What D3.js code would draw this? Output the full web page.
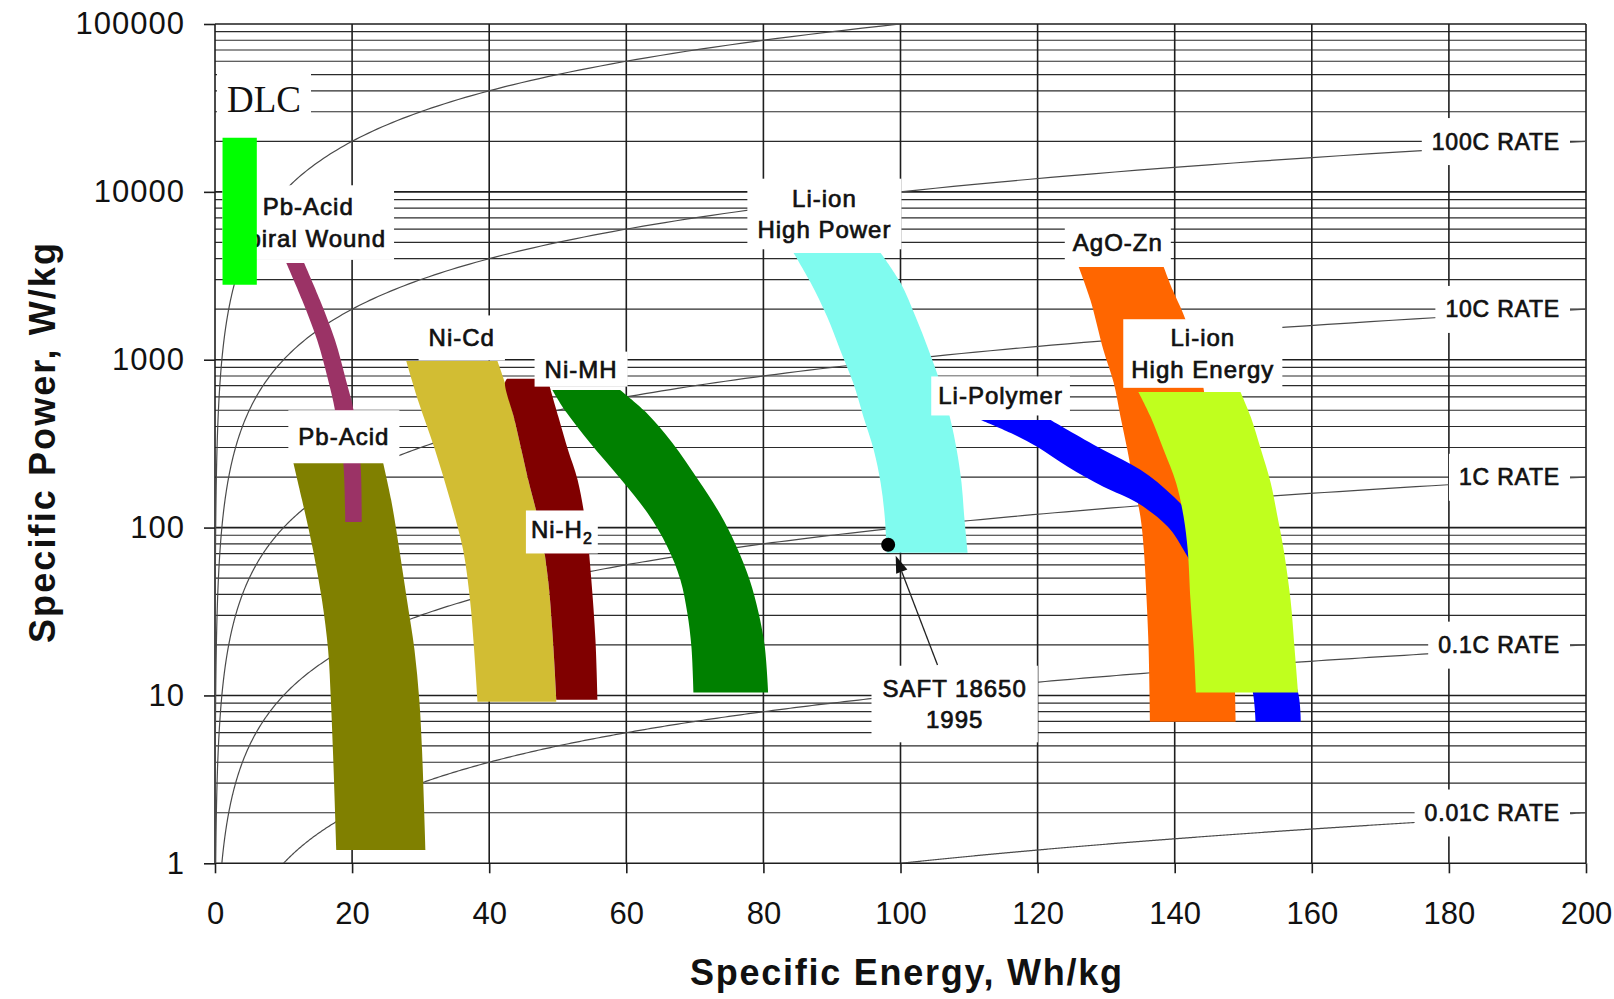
<!DOCTYPE html>
<html>
<head>
<meta charset="utf-8">
<script src="https://cdn.jsdelivr.net/npm/d3@7"></script>
<style>
  html, body { margin: 0; padding: 0; background: #fff; }
  svg { display: block; overflow: hidden; }
</style>
</head>
<body>
<svg id="chart" width="1614" height="999"></svg>
<script>
// ---------------- data ----------------
const energyTicks = [0, 20, 40, 60, 80, 100, 120, 140, 160, 180, 200];
const powerTicks = [1, 10, 100, 1000, 10000, 100000];
const powerTickLabels = ["1", "10", "100", "1000", "10000", "100000"];

// discharge-rate guide lines (P = rate * E)
const cRates = [0.01, 0.1, 1, 10, 100, 1000];
const cRateLabels = ["0.01C RATE", "0.1C RATE", "1C RATE", "10C RATE", "100C RATE", ""];

// region outlines as [specific energy Wh/kg, specific power W/kg], each edge listed top to bottom
const dlcLeft  = [[1.1, 21000], [1.1, 2800]];
const dlcRight = [[6.1, 21000], [6.1, 2800]];

const pbSpiralLeft  = [[10.4, 3770], [12.7, 2270], [14.9, 1310], [16.5, 758], [17.5, 502], [18.1, 333], [18.7, 246], [19.0, 108]];
const pbSpiralRight = [[13.0, 3770], [15.3, 2270], [17.5, 1310], [19.1, 758], [20.2, 502], [20.6, 333], [21.2, 246], [21.4, 108]];

const pbAcidLeft  = [[11.4, 246], [12.7, 146], [14.3, 73.6], [15.6, 37.1], [16.5, 18.7], [16.9, 9.42], [17.2, 4.74], [17.7, 1.2]];
const pbAcidRight = [[24.5, 246], [25.7, 146], [26.9, 73.6], [28.0, 37.1], [29.1, 18.7], [29.8, 9.42], [30.2, 4.74], [30.7, 1.2]];

const niCdLeft  = [[27.9, 983], [29.6, 576], [32.1, 290], [34.3, 146], [36.2, 73.6], [37.2, 37.1], [37.8, 18.7], [38.3, 9.16]];
const niCdRight = [[41.2, 983], [42.3, 728], [43.7, 438], [44.7, 290], [45.7, 192], [47.5, 96.9], [48.6, 48.8], [49.3, 21.4], [49.8, 9.16]];

const niH2Left  = [[42.6, 770], [42.3, 728], [43.7, 438], [44.7, 290], [45.7, 192], [47.5, 96.9], [48.6, 48.8], [49.3, 21.4], [49.8, 9.42]];
const niH2Right = [[48.5, 770], [50.1, 456], [51.5, 290], [52.9, 192], [54.2, 96.9], [54.9, 48.8], [55.5, 21.4], [55.8, 9.42]];

const niMHLeft  = [[49.2, 661], [51.2, 489], [54.7, 320], [59.3, 192], [63.1, 122], [66.0, 76.7], [67.9, 48.8], [68.9, 31.0], [69.5, 19.5], [69.8, 10.4]];
const niMHRight = [[59.1, 661], [62.8, 489], [66.7, 320], [70.5, 192], [73.6, 122], [76.1, 76.7], [78.0, 48.8], [79.3, 31.0], [80.2, 19.5], [80.7, 10.4]];

const liIonPowerLeft  = [[84.4, 4330], [86.9, 2870], [89.3, 1800], [91.2, 1144], [93.1, 728], [94.6, 456], [96.1, 290], [97.1, 185], [97.7, 116], [98.0, 70.7]];
const liIonPowerRight = [[97.1, 4330], [100.0, 2870], [102.2, 1800], [104.1, 1144], [105.8, 728], [107.3, 438], [108.2, 290], [108.9, 185], [109.3, 116], [109.8, 70.7]];

const agoZnLeft  = [[126.0, 3570], [127.7, 2271], [129.6, 1144], [131.1, 728], [132.1, 456], [133.1, 290], [134.0, 185], [135.0, 116], [135.5, 73.6], [135.9, 37.1], [136.2, 18.7], [136.4, 6.96]];
const agoZnRight = [[138.4, 3570], [139.7, 2604], [141.2, 1900], [143.1, 1144], [144.5, 576], [145.7, 290], [146.7, 146], [147.6, 73.6], [148.2, 37.1], [148.6, 18.7], [148.8, 10.4], [148.9, 6.96]];

const liPolymerLeft  = [[111.7, 438], [116.1, 366], [120.0, 302], [124.4, 230], [129.6, 175], [134.6, 140], [139.0, 101], [141.3, 73.6], [145.3, 37.1], [149.6, 18.7], [151.4, 10.4], [151.8, 6.96]];
const liPolymerRight = [[121.9, 438], [124.4, 382], [129.6, 290], [135.0, 221], [139.9, 152], [145.3, 84.5], [151.1, 37.1], [155.5, 18.7], [158.0, 10.4], [158.4, 6.96]];

const liIonEnergyLeft  = [[134.7, 643], [136.5, 456], [138.4, 290], [140.2, 185], [141.3, 116], [141.9, 73.6], [142.3, 37.1], [142.8, 18.7], [143.1, 10.4]];
const liIonEnergyRight = [[149.6, 643], [151.1, 456], [152.6, 290], [154.0, 185], [155.0, 116], [155.9, 73.6], [156.9, 37.1], [157.5, 18.7], [158.0, 10.4]];

// SAFT 18650 cell (1995) and its pointer
const saftPoint = [98.2, 79];
const saftArrow = [[105.4, 15.2], [99.3, 67.9]];

// region labels: text lines and the data point they are centred on
const techLabels = [
  { key: "dlc",     lines: ["DLC"],                    at: [7.15, 35300] },
  { key: "spiral",  lines: ["Pb-Acid", "Spiral Wound"], at: [13.6, 6570] },
  { key: "nicd",    lines: ["Ni-Cd"],                  at: [36.0, 1350] },
  { key: "nimh",    lines: ["Ni-MH"],                  at: [53.4, 880] },
  { key: "pbacid",  lines: ["Pb-Acid"],                at: [18.8, 348] },
  { key: "nih2",    lines: ["Ni-H"], sub: "2",         at: [50.6, 96.9] },
  { key: "lihp",    lines: ["Li-ion", "High Power"],   at: [88.9, 7390] },
  { key: "agozn",   lines: ["AgO-Zn"],                 at: [131.7, 4980] },
  { key: "lihe",    lines: ["Li-ion", "High Energy"],  at: [144.1, 1090] },
  { key: "lipoly",  lines: ["Li-Polymer"],             at: [114.6, 609] },
  { key: "saft",    lines: ["SAFT 18650", "1995"],     at: [107.9, 8.9] }
];

// ---------------- layout & style ----------------
const W = 1614, H = 999;
const plot = { left: 215, right: 1586, top: 24, bottom: 863.3 };

const colors = {
  spiral: "#9b3366", pbacid: "#808000", nicd: "#d2bd33", nih2: "#800000",
  nimh: "#008000", lihp: "#80fbef", agozn: "#ff6600", lipoly: "#0000ff",
  lihe: "#c0ff1e", dlc: "#00ff00"
};
// box padding [x, y] around each label
const labelPad = {
  dlc: [10, 6], spiral: [8, 8], nicd: [10, 9], nimh: [10, 4], pbacid: [10, 13],
  nih2: [5, 6], lihp: [10, 6], agozn: [8, 6], lihe: [8, 5], lipoly: [7, 6], saft: [11, 9]
};

const svg = d3.select("#chart");
svg.append("rect").attr("width", W).attr("height", H).attr("fill", "#fff");

const x = d3.scaleLinear().domain([0, 200]).range([plot.left, plot.right]);
const y = d3.scaleLog().domain([1, 100000]).range([plot.bottom, plot.top]);

svg.append("defs").append("clipPath").attr("id", "plotClip")
  .append("rect")
  .attr("x", plot.left).attr("y", plot.top)
  .attr("width", plot.right - plot.left).attr("height", plot.bottom - plot.top);

// ---------------- grid ----------------
const grid = svg.append("g");
const minorPower = [];
for (let k = 0; k < 5; k++) for (let m = 2; m <= 9; m++) minorPower.push(m * Math.pow(10, k));

grid.selectAll("line.minor").data(minorPower).join("line")
  .attr("x1", plot.left).attr("x2", plot.right)
  .attr("y1", d => y(d)).attr("y2", d => y(d))
  .attr("stroke", "#2b2b2b").attr("stroke-width", 1.2);

grid.selectAll("line.major").data(powerTicks).join("line")
  .attr("x1", plot.left).attr("x2", plot.right)
  .attr("y1", d => y(d)).attr("y2", d => y(d))
  .attr("stroke", "#1e1e1e").attr("stroke-width", 1.6);

grid.selectAll("line.vert").data(energyTicks).join("line")
  .attr("x1", d => x(d)).attr("x2", d => x(d))
  .attr("y1", plot.top).attr("y2", plot.bottom)
  .attr("stroke", "#1e1e1e").attr("stroke-width", 1.6);

// ---------------- C-rate lines ----------------
function ratePoints(r) {
  const e0 = 1 / r, e1 = Math.min(200, 100000 / r), n = 400;
  return d3.range(n + 1).map(i => {
    const e = e0 * Math.pow(e1 / e0, i / n);
    return [e, r * e];
  });
}
const rateLine = d3.line().x(d => x(d[0])).y(d => y(d[1]));
svg.append("g").attr("clip-path", "url(#plotClip)")
  .selectAll("path").data(cRates).join("path")
  .attr("d", r => rateLine(ratePoints(r)))
  .attr("fill", "none").attr("stroke", "#4a4a4a").attr("stroke-width", 1.2);

// ---------------- regions ----------------
const edge = d3.line().x(d => x(d[0])).y(d => y(d[1])).curve(d3.curveCatmullRom.alpha(0.5));
function bandPath(left, right) {
  const l = edge(left);
  const r = edge(right.slice().reverse());
  return l + r.replace(/^M/, "L") + "Z";
}
const bands = [
  { key: "pbacid", left: pbAcidLeft, right: pbAcidRight },
  { key: "spiral", left: pbSpiralLeft, right: pbSpiralRight },
  { key: "nicd",   left: niCdLeft, right: niCdRight },
  { key: "nih2",   left: niH2Left, right: niH2Right },
  { key: "nimh",   left: niMHLeft, right: niMHRight },
  { key: "lihp",   left: liIonPowerLeft, right: liIonPowerRight },
  { key: "agozn",  left: agoZnLeft, right: agoZnRight },
  { key: "lipoly", left: liPolymerLeft, right: liPolymerRight },
  { key: "lihe",   left: liIonEnergyLeft, right: liIonEnergyRight }
];
svg.append("g").selectAll("path").data(bands).join("path")
  .attr("d", b => bandPath(b.left, b.right))
  .attr("fill", b => colors[b.key]);

// ---------------- labels with white backing ----------------
const textColor = "#111";
function boxedText(g, pad) {
  const bb = g.node().getBBox();
  g.insert("rect", ":first-child")
    .attr("x", bb.x - pad[0]).attr("y", bb.y - pad[1])
    .attr("width", bb.width + 2 * pad[0]).attr("height", bb.height + 2 * pad[1])
    .attr("fill", "#fff");
}

const labelLayer = svg.append("g");
techLabels.forEach(lab => {
  const serif = lab.key === "dlc";
  const fs = serif ? 37 : 24;
  const lh = 31.6;
  const cx = x(lab.at[0]), cy = y(lab.at[1]);
  const g = labelLayer.append("g");
  const n = lab.lines.length;
  lab.lines.forEach((line, i) => {
    const capMid = cy + (i - (n - 1) / 2) * lh;
    const t = g.append("text")
      .attr("x", cx).attr("y", capMid + (serif ? 0.33 : 0.358) * fs)
      .attr("text-anchor", "middle")
      .attr("font-family", serif ? "'Liberation Serif', 'Times New Roman', serif" : "'Liberation Sans', Arial, sans-serif")
      .attr("font-size", fs)
      .attr("letter-spacing", serif ? 0 : 1)
      .attr("fill", textColor)
      .attr("stroke", serif ? "none" : textColor).attr("stroke-width", 0.7)
      .text(line);
    if (lab.sub && i === n - 1) {
      t.append("tspan").attr("font-size", 16).attr("dy", 6).text(lab.sub);
    }
  });
  boxedText(g, labelPad[lab.key]);
});

// C-rate labels at the right-hand end of each guide line
const rateLabelLayer = svg.append("g");
cRates.forEach((r, i) => {
  if (!cRateLabels[i]) return;
  const g = rateLabelLayer.append("g");
  const cy = y(r * 200);
  g.append("text")
    .attr("x", x(200) - 26).attr("y", cy + 0.358 * 23)
    .attr("text-anchor", "end")
    .attr("font-family", "'Liberation Sans', Arial, sans-serif")
    .attr("font-size", 23).attr("letter-spacing", 0.8)
    .attr("fill", textColor).attr("stroke", textColor).attr("stroke-width", 0.7)
    .text(cRateLabels[i]);
  boxedText(g, [10, 10.5]);
});

// DLC region sits above the neighbouring label
svg.append("path")
  .attr("d", bandPath(dlcLeft, dlcRight))
  .attr("fill", colors.dlc);

// SAFT 18650 marker and pointer
const [a0, a1] = saftArrow.map(p => [x(p[0]), y(p[1])]);
const ang = Math.atan2(a1[1] - a0[1], a1[0] - a0[0]);
const headLen = 17, headHalf = 6;
const base = [a1[0] - headLen * Math.cos(ang), a1[1] - headLen * Math.sin(ang)];
svg.append("line")
  .attr("x1", a0[0]).attr("y1", a0[1]).attr("x2", base[0]).attr("y2", base[1])
  .attr("stroke", "#222").attr("stroke-width", 1.3);
svg.append("path")
  .attr("d", d3.line()([
    a1,
    [base[0] + headHalf * Math.sin(ang), base[1] - headHalf * Math.cos(ang)],
    [base[0] - headHalf * Math.sin(ang), base[1] + headHalf * Math.cos(ang)]
  ]) + "Z")
  .attr("fill", "#111");
svg.append("circle")
  .attr("cx", x(saftPoint[0])).attr("cy", y(saftPoint[1])).attr("r", 7)
  .attr("fill", "#000");

// ---------------- axes ----------------
const axisFont = "'Liberation Sans', Arial, sans-serif";
const xAxis = svg.append("g")
  .attr("transform", `translate(0,${plot.bottom})`)
  .call(d3.axisBottom(x).tickValues(energyTicks).tickSize(10).tickPadding(28.6).tickFormat(d3.format("d")));
xAxis.select(".domain").remove();
xAxis.selectAll(".tick line").attr("stroke", "#1e1e1e").attr("stroke-width", 1.6);
xAxis.selectAll(".tick text")
  .attr("font-family", axisFont).attr("font-size", 31).attr("fill", "#111");

const yAxis = svg.append("g")
  .attr("transform", `translate(${plot.left},0)`)
  .call(d3.axisLeft(y).tickValues(powerTicks).tickSize(11).tickPadding(19)
    .tickFormat((d, i) => powerTickLabels[i]));
yAxis.select(".domain").remove();
yAxis.selectAll(".tick line").attr("stroke", "#1e1e1e").attr("stroke-width", 1.6);
yAxis.selectAll(".tick text")
  .attr("font-family", axisFont).attr("font-size", 31).attr("letter-spacing", 1).attr("fill", "#111");

// axis titles
svg.append("text")
  .attr("x", 906).attr("y", 985)
  .attr("text-anchor", "middle")
  .attr("font-family", axisFont).attr("font-weight", "bold").attr("font-size", 36)
  .attr("textLength", 432).attr("lengthAdjust", "spacing")
  .attr("fill", "#111")
  .text("Specific Energy, Wh/kg");

svg.append("text")
  .attr("transform", "translate(55,443) rotate(-90)")
  .attr("text-anchor", "middle")
  .attr("font-family", axisFont).attr("font-weight", "bold").attr("font-size", 36)
  .attr("textLength", 400).attr("lengthAdjust", "spacing")
  .attr("fill", "#111")
  .text("Specific Power, W/kg");
</script>
</body>
</html>
